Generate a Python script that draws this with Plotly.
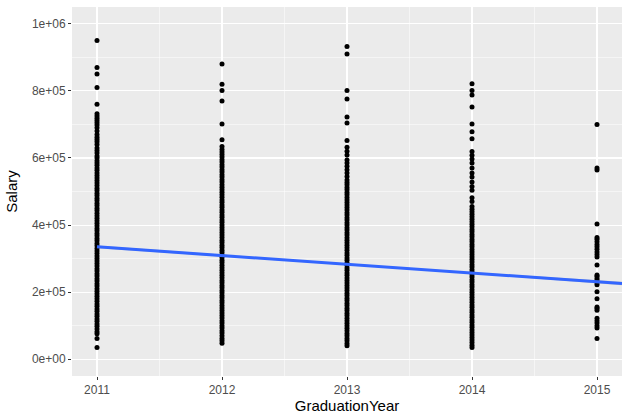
import plotly.graph_objects as go

# ---- data ----
years = [2011, 2012, 2013, 2014, 2015]

sal_2011 = [35000, 62000, 76000, 82000, 90000, 98000, 105000, 113000, 120000, 128000,
            135000, 143000, 150000, 158000, 165000, 173000, 180000, 188000, 195000, 203000,
            210000, 218000, 225000, 233000, 240000, 248000, 255000, 263000, 270000, 278000,
            285000, 293000, 300000, 308000, 315000, 323000, 330000, 338000, 345000, 353000,
            360000, 368000, 375000, 383000, 390000, 398000, 405000, 413000, 420000, 428000,
            435000, 443000, 450000, 458000, 465000, 473000, 480000, 488000, 495000, 503000,
            510000, 518000, 525000, 533000, 540000, 548000, 555000, 563000, 570000, 578000,
            585000, 592000, 600000, 606000, 615000, 622000, 630000, 640000, 648000, 655000,
            662000, 670000, 680000, 690000, 698000, 705000, 712000, 718000, 725000, 732000,
            760000, 810000, 850000, 870000, 950000]

sal_2012 = [48000, 55000, 62000, 70000, 78000, 85000, 93000, 100000, 108000, 115000,
            123000, 130000, 138000, 145000, 153000, 160000, 168000, 175000, 183000, 190000,
            198000, 205000, 213000, 220000, 228000, 235000, 243000, 250000, 258000, 265000,
            273000, 280000, 288000, 295000, 303000, 310000, 318000, 325000, 333000, 340000,
            348000, 355000, 363000, 370000, 378000, 385000, 393000, 400000, 408000, 415000,
            423000, 430000, 438000, 445000, 453000, 460000, 468000, 475000, 483000, 490000,
            498000, 505000, 513000, 520000, 528000, 535000, 543000, 550000, 558000, 565000,
            573000, 580000, 588000, 595000, 603000, 610000, 618000, 625000, 634000,
            654000, 701000, 770000, 801000, 820000, 880000]

sal_2013 = [40000, 47000, 55000, 62000, 70000, 77000, 85000, 92000, 100000, 107000,
            115000, 122000, 130000, 137000, 145000, 152000, 160000, 167000, 175000, 182000,
            190000, 197000, 205000, 212000, 220000, 227000, 235000, 242000, 250000, 257000,
            265000, 272000, 280000, 287000, 295000, 302000, 310000, 317000, 325000, 332000,
            340000, 347000, 355000, 362000, 370000, 377000, 385000, 392000, 400000, 407000,
            415000, 422000, 430000, 437000, 445000, 452000, 460000, 467000, 475000, 482000,
            490000, 497000, 505000, 512000, 520000, 527000, 534000,
            545000, 555000, 565000, 575000, 585000, 594000, 609000, 620000, 632000,
            652000, 704000, 722000, 776000, 801000, 910000, 932000]

sal_2014 = [35000, 42000, 50000, 57000, 65000, 72000, 80000, 87000, 95000, 102000,
            110000, 117000, 125000, 132000, 140000, 147000, 155000, 162000, 170000, 177000,
            185000, 192000, 200000, 207000, 215000, 222000, 230000, 237000, 245000, 252000,
            260000, 267000, 275000, 282000, 290000, 297000, 305000, 312000, 320000, 327000,
            335000, 342000, 350000, 357000, 365000, 372000, 380000, 387000, 395000, 402000,
            410000, 417000, 425000, 432000, 440000, 447000, 455000,
            470000, 481000, 504000, 515000, 528000, 543000, 555000, 570000, 585000,
            597000, 608000, 619000, 657000, 678000, 701000, 752000, 788000, 801000, 821000]

sal_2015 = [62000, 93000, 100000, 108000, 115000, 122000, 146000, 152000, 156000, 180000,
            201000, 222000, 228000, 235000, 241000, 247000, 251000, 281000, 305000, 312000,
            320000, 328000, 335000, 342000, 350000, 358000, 363000, 403000, 564000, 570000,
            700000]

salaries_by_year = [sal_2011, sal_2012, sal_2013, sal_2014, sal_2015]

# fitted linear trend with its confidence band
fit_x = [2011, 2012, 2013, 2014, 2015, 2015.2]
fit_y = [335000, 309000, 283000, 257000, 231000, 225800]
fit_lo = [331000, 306500, 281000, 254500, 226500, 220800]
fit_hi = [339000, 311500, 285000, 259500, 235500, 230800]

x_tick_vals = [2011, 2012, 2013, 2014, 2015]
y_tick_vals = [0, 200000, 400000, 600000, 800000, 1000000]
y_tick_text = ["0e+00", "2e+05", "4e+05", "6e+05", "8e+05", "1e+06"]

# ---- build ----
px_x, px_y = [], []
for yr, vals in zip(years, salaries_by_year):
    px_x += [yr] * len(vals)
    px_y += vals

fig = go.Figure()
fig.add_trace(go.Scatter(x=px_x, y=px_y, mode="markers",
                         marker=dict(color="black", size=5, line=dict(width=0)),
                         hoverinfo="skip", showlegend=False))
fig.add_trace(go.Scatter(x=fit_x + fit_x[::-1], y=fit_hi + fit_lo[::-1],
                         fill="toself", fillcolor="rgba(153,153,153,0.4)",
                         line=dict(width=0), mode="lines", hoverinfo="skip",
                         showlegend=False))
fig.add_trace(go.Scatter(x=fit_x, y=fit_y, mode="lines",
                         line=dict(color="#3366FF", width=3), hoverinfo="skip",
                         showlegend=False))

font_family = "Liberation Sans, Arial, sans-serif"
fig.update_layout(
    width=622, height=417,
    margin=dict(l=72, r=0, t=7, b=41, autoexpand=False),
    paper_bgcolor="white", plot_bgcolor="#EBEBEB",
    font=dict(family=font_family, color="black"),
    showlegend=False,
)
fig.update_xaxes(
    range=[2010.8, 2015.2], tickmode="array", tickvals=x_tick_vals,
    ticktext=[str(v) for v in x_tick_vals],
    showgrid=True, gridcolor="white", gridwidth=1.1,
    minor=dict(tickmode="linear", tick0=2010.5, dtick=1, showgrid=True,
               gridcolor="white", gridwidth=0.5),
    ticks="outside", ticklen=3, tickcolor="#333333", tickwidth=1,
    tickfont=dict(size=12, color="#4D4D4D"),
    zeroline=False, showline=False, automargin=False,
    title=dict(text="GraduationYear", font=dict(size=15, color="black"), standoff=2),
)
fig.update_yaxes(
    range=[-50000, 1050000], tickmode="array", tickvals=y_tick_vals, ticktext=y_tick_text,
    showgrid=True, gridcolor="white", gridwidth=1.1,
    minor=dict(tickmode="linear", tick0=100000, dtick=200000, showgrid=True,
               gridcolor="white", gridwidth=0.5),
    ticks="outside", ticklen=3, tickcolor="#333333", tickwidth=1,
    tickfont=dict(size=12, color="#4D4D4D"),
    zeroline=False, showline=False, automargin=False,
    title=dict(text="Salary", font=dict(size=15, color="black"), standoff=10),
)

fig.write_html("out.html",
               config={"displayModeBar": False, "staticPlot": True},
               post_script="document.body.style.margin='0';document.body.style.overflow='hidden';")
